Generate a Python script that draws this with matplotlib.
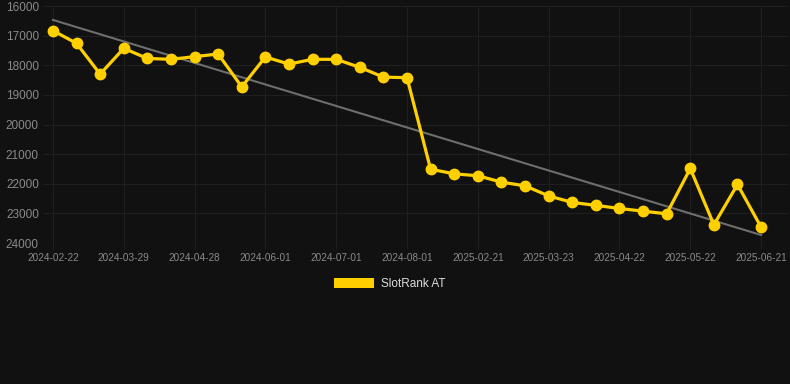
import matplotlib.pyplot as plt
import numpy as np
from matplotlib.patches import Patch

plt.rcParams['font.family'] = ['Liberation Sans', 'DejaVu Sans']

# ranks over time (lower is better, axis inverted)
ranks = [16830, 17260, 18300, 17430, 17770, 17800, 17710, 17620, 18730, 17720,
         17960, 17800, 17800, 18070, 18400, 18420, 21510, 21665, 21730, 21945,
         22070, 22410, 22630, 22730, 22835, 22925, 23015, 21485, 23385, 22025,
         23465]
tick_labels = ['2024-02-22', '2024-03-29', '2024-04-28', '2024-06-01', '2024-07-01',
               '2024-08-01', '2025-02-21', '2025-03-23', '2025-04-22', '2025-05-22',
               '2025-06-21']
tick_step = 3
# trend line ends
trend_ends = [16470, 23730]

bg = '#111111'
yellow = '#FFD000'

fig = plt.figure(figsize=(7.9, 3.84), dpi=100, facecolor=bg)
ax = fig.add_axes([43/790, 1-243/384, 745/790, 237/384], facecolor=bg)

x = np.arange(len(ranks))

ax.plot([x[0], x[-1]], trend_ends, color='#6e6e6e', lw=1.5, zorder=2)
ax.plot(x, ranks, color=yellow, lw=2.3, marker='o', markersize=7.5, zorder=3)

ax.set_xlim(-0.42, 31.14)
ax.set_ylim(24000, 16000)
ax.set_yticks(np.arange(16000, 24001, 1000))
ax.set_xticks(x[::tick_step])
ax.set_xticklabels(tick_labels)

ax.grid(True, color='#1f1f1f', lw=0.8)
for s in ax.spines.values():
    s.set_visible(False)
ax.tick_params(axis='y', length=0, pad=3, labelsize=8.5, labelcolor='#8a8a8a')
ax.tick_params(axis='x', length=4, color='#1f1f1f', pad=3, labelsize=7.2, labelcolor='#8a8a8a')

fig.legend(handles=[Patch(facecolor=yellow, label='SlotRank AT')],
           loc='center', bbox_to_anchor=(390/790, 1-284/384), frameon=False,
           handlelength=3.4, handleheight=0.9, handletextpad=0.6,
           fontsize=8.5, labelcolor='#dddddd')

fig.savefig('out.png', dpi=100, facecolor=bg)
